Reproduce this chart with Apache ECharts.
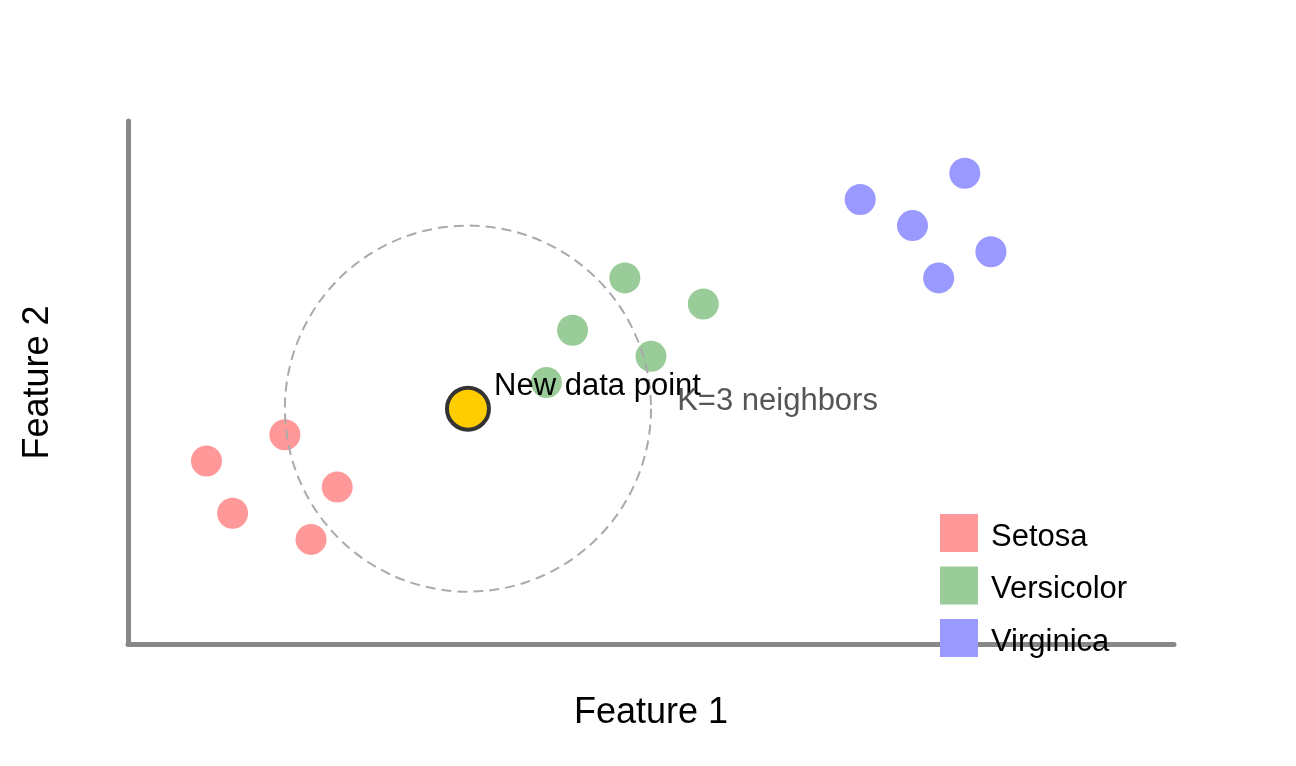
<!DOCTYPE html>
<html>
<head>
<meta charset="utf-8">
<script src="https://cdn.jsdelivr.net/npm/echarts@6/dist/echarts.min.js"></script>
<style>
html,body{margin:0;padding:0;background:#fff;}
#chart{width:1296px;height:766px;}
</style>
</head>
<body>
<div id="chart"></div>
<script>
// ---- data ----
const classNames = ['Setosa', 'Versicolor', 'Virginica'];
const setosa = [[0.6, 2.8], [0.8, 2.0], [1.2, 3.2], [1.4, 1.6], [1.6, 2.4]];
const versicolor = [[3.2, 4.0], [3.4, 4.8], [3.8, 5.6], [4.0, 4.4], [4.4, 5.2]];
const virginica = [[5.6, 6.8], [6.0, 6.4], [6.4, 7.2], [6.2, 5.6], [6.6, 6.0]];
const newPoint = [[2.6, 3.6]];
const neighborRadius = 1.4; // in Feature 1 units
const annotationTexts = ['New data point', 'K=3 neighbors'];
const annotationPos = [[2.8, 3.8], [4.2, 3.6]];
const axisNames = ['Feature 1', 'Feature 2'];

// ---- styles ----
const classColors = ['#ff9999', '#99cc99', '#9999ff'];
const annotationColors = ['#000000', '#555555'];
const annotationShift = [-9, -7];
const FONT = '"Liberation Sans", Arial, Helvetica, sans-serif';

const chart = echarts.init(document.getElementById('chart'), null, {renderer: 'canvas'});

const classSeries = [setosa, versicolor, virginica].map((d, i) => ({
  name: classNames[i],
  type: 'scatter',
  data: d,
  symbol: 'circle',
  symbolSize: 31,
  itemStyle: {color: classColors[i], opacity: 1},
  z: 2
}));

const option = {
  animation: false,
  backgroundColor: '#ffffff',
  grid: {left: 128, right: 122, top: 121, bottom: 122},
  xAxis: {
    type: 'value', min: 0, max: 8,
    name: axisNames[0], nameLocation: 'middle', nameGap: 51,
    nameTextStyle: {fontSize: 36, color: '#000', fontFamily: FONT},
    axisLine: {show: true, onZero: false, lineStyle: {color: '#888888', width: 5}},
    axisTick: {show: false}, axisLabel: {show: false}, splitLine: {show: false}
  },
  yAxis: {
    type: 'value', min: 0, max: 8,
    name: axisNames[1], nameLocation: 'middle', nameGap: 72,
    nameTextStyle: {fontSize: 36, color: '#000', fontFamily: FONT},
    axisLine: {show: true, onZero: false, lineStyle: {color: '#888888', width: 5}},
    axisTick: {show: false}, axisLabel: {show: false}, splitLine: {show: false}
  },
  legend: {
    data: classNames,
    orient: 'vertical',
    left: 940, top: 514,
    padding: 0,
    itemWidth: 38, itemHeight: 38, itemGap: 14,
    icon: 'rect',
    formatter: '{t|{name}}',
    textStyle: {
      fontSize: 31, color: '#000', fontFamily: FONT,
      rich: {t: {fontSize: 31, color: '#000', fontFamily: FONT, padding: [8, 0, 0, 8]}}
    },
    selectedMode: false,
    z: 10
  },
  series: [
    ...classSeries,
    {
      name: 'neighborhood',
      type: 'custom',
      data: newPoint,
      encode: {x: 0, y: 1},
      clip: false,
      z: 3,
      silent: true,
      renderItem: function (params, api) {
        const c = api.coord([api.value(0), api.value(1)]);
        const r = api.size([neighborRadius, 0])[0];
        return {
          type: 'circle',
          shape: {cx: c[0], cy: c[1], r: r},
          style: {fill: 'none', stroke: '#aaaaaa', lineWidth: 2, lineDash: [10, 6]}
        };
      }
    },
    {
      name: 'New data point',
      type: 'scatter',
      data: newPoint,
      symbol: 'circle',
      symbolSize: 42,
      itemStyle: {color: '#ffcc00', borderColor: '#333333', borderWidth: 4, opacity: 1},
      z: 4
    },
    {
      name: 'annotations',
      type: 'custom',
      data: annotationPos,
      encode: {x: 0, y: 1},
      clip: false,
      z: 5,
      silent: true,
      renderItem: function (params, api) {
        const p = api.coord([api.value(0), api.value(1)]);
        const i = params.dataIndex;
        return {
          type: 'text',
          x: p[0], y: p[1] + annotationShift[i],
          style: {
            text: annotationTexts[i],
            fill: annotationColors[i],
            fontSize: 31,
            fontFamily: FONT,
            align: 'left',
            verticalAlign: 'middle'
          }
        };
      }
    }
  ]
};
chart.setOption(option);
</script>
</body>
</html>
